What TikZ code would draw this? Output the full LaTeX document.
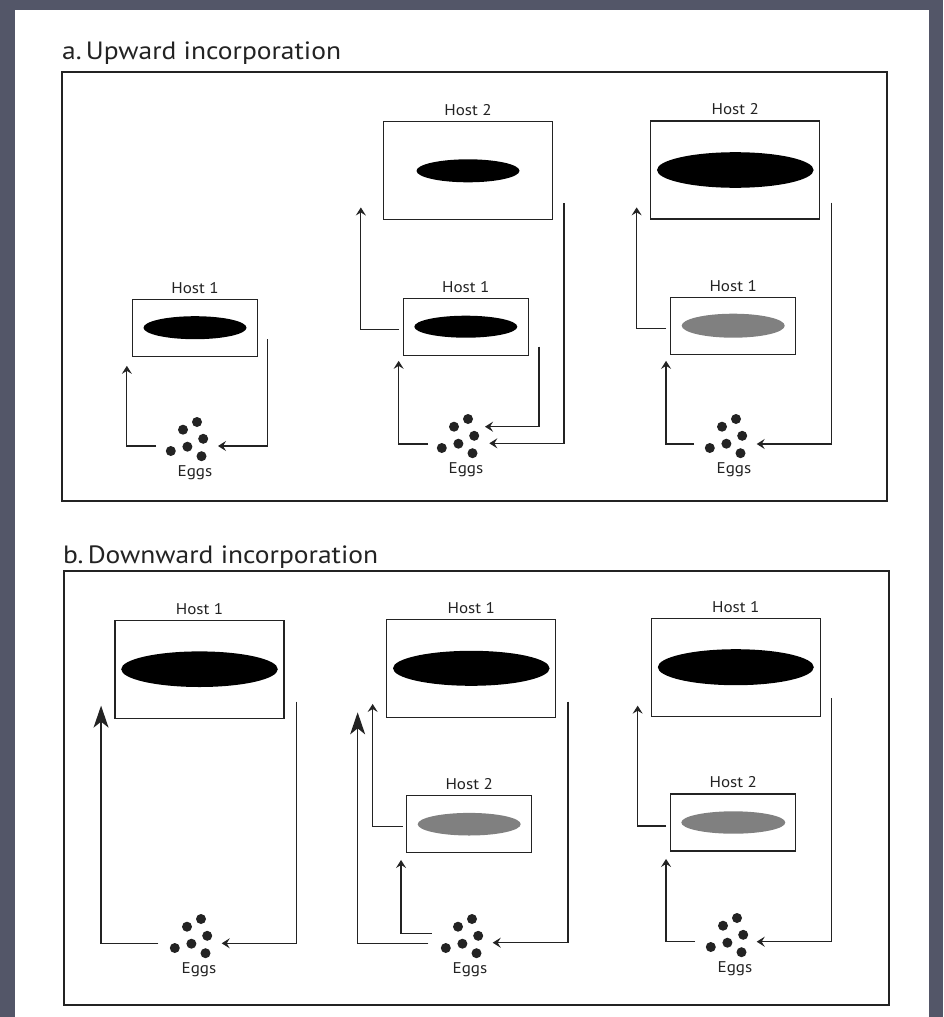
\documentclass[tikz,border=0pt]{standalone}
\usepackage{fontspec}
\setmainfont{PT Sans}
\newfontfamily\widesans{PT Sans}[FakeStretch=1.1]
\usetikzlibrary{arrows.meta,calc}
\definecolor{slate}{RGB}{83,86,104}
\definecolor{ink}{RGB}{35,35,35}
\definecolor{halftone}{RGB}{128,128,128}
\tikzset{
  hostbox/.style={draw=ink, line width=1.3pt, inner sep=0pt},
  bigbox/.style={hostbox, minimum width=169pt, minimum height=98pt},
  smallbox/.style={hostbox, minimum width=125pt, minimum height=57pt},
  hostlabel/.style={font=\widesans\fontsize{15.5}{18}\selectfont, text=ink, anchor=base, inner sep=0pt},
  eggslabel/.style={font=\widesans\fontsize{15.5}{18}\selectfont, text=ink, anchor=base, inner sep=0pt},
  paneltitle/.style={font=\widesans\fontsize{25}{28}\selectfont, text=ink, anchor=base west, inner sep=0pt},
  conn/.style={draw=ink, line width=1.2pt, -{Stealth[length=8pt,width=10pt,inset=3pt]}},
  bigconn/.style={draw=ink, line width=1.2pt, -{Stealth[length=22pt,width=15pt,inset=6pt]}},
  panel/.style={draw=ink, line width=1.3pt},
}
% six egg dots above an "Eggs" label node
\newcommand\eggcluster[1]{%
  \foreach \dx/\dy in {2/-54, -12/-46.3, 8.2/-37.2, -7.6/-29.3, -24.2/-25, 6.5/-19.8}
    \fill[ink] ($(#1.base)+(\dx,\dy)$) circle[radius=5pt];}
% label above a host box
\newcommand\hostname[2]{\node[hostlabel] (#1l) at ($(#1.north)+(0,-5.5)$) {Host #2};}

\begin{document}
\begin{tikzpicture}[x=1pt,y=-1pt]
\useasboundingbox (0,0) rectangle (943,1017);
\fill[slate] (0,0) rectangle (943,1017);
\fill[white] (15,10) rectangle (929,1017);

% ---------- a. Upward incorporation ----------
\node[paneltitle] (ta) at (62,59) {a.\,Upward incorporation};
\draw[panel] (62,72) rectangle (887,501);

% column 1
\node[smallbox] (a1h1) at (195,327.7) {};
\hostname{a1h1}{1}
\fill[black] (a1h1.center) ellipse[x radius=51.5pt, y radius=11.5pt];
\node[eggslabel] (a1e) at (195,476) {Eggs};
\eggcluster{a1e}
\draw[conn] ($(a1h1.east)+(9,11.6)$) |- ($(a1e.base)+(23,-30)$);
\draw[conn] ($(a1e.base)+(-39,-30)$) -| ($(a1h1.south west)+(-5,9)$);

% column 2
\node[bigbox] (a2h2) at (468,170.8) {};
\hostname{a2h2}{2}
\fill[black] (a2h2.center) ellipse[x radius=51.5pt, y radius=11.5pt];
\node[smallbox] (a2h1) at (465.8,326.7) {};
\hostname{a2h1}{1}
\fill[black] (a2h1.center) ellipse[x radius=51.5pt, y radius=11pt];
\node[eggslabel] (a2e) at (466,473) {Eggs};
\eggcluster{a2e}
\draw[conn] ($(a2h1.west)+(-3.5,2.5)$) -| ($(a2h2.south west)+(-22,-13)$);
\draw[conn] ($(a2e.base)+(-38,-29)$) -| ($(a2h1.south west)+(-4,5)$);
\draw[conn] ($(a2h1.east)+(10,20)$) |- ($(a2e.base)+(19,-46.3)$);
\draw[conn] ($(a2h2.east)+(10.8,32.5)$) |- ($(a2e.base)+(23.3,-29.7)$);

% column 3
\node[bigbox] (a3h2) at (735.3,170) {};
\hostname{a3h2}{2}
\fill[black] (a3h2.center) ellipse[x radius=78.3pt, y radius=17.8pt];
\node[smallbox] (a3h1) at (733.2,325.7) {};
\hostname{a3h1}{1}
\fill[halftone] (a3h1.center) ellipse[x radius=51.5pt, y radius=12pt];
\node[eggslabel] (a3e) at (734,473) {Eggs};
\eggcluster{a3e}
\draw[conn] ($(a3h1.west)+(-4,2.6)$) -| ($(a3h2.south west)+(-13.5,-12.3)$);
\draw[conn] ($(a3e.base)+(-40,-29)$) -| ($(a3h1.south west)+(-4,6)$);
\draw[conn] ($(a3h2.east)+(10.9,32.7)$) |- ($(a3e.base)+(22.7,-29)$);

% ---------- b. Downward incorporation ----------
\node[paneltitle] (tb) at (63,563) {b.\,Downward incorporation};
\draw[panel] (64,571) rectangle (889,1005);

% column 1
\node[bigbox] (b1h1) at (199.5,669.2) {};
\hostname{b1h1}{1}
\fill[black] (b1h1.center) ellipse[x radius=78.3pt, y radius=17.8pt];
\node[eggslabel] (b1e) at (199,973) {Eggs};
\eggcluster{b1e}
\draw[conn] ($(b1h1.east)+(12,32.5)$) |- ($(b1e.base)+(22.7,-29.7)$);
\draw[bigconn] ($(b1e.base)+(-40.7,-29.7)$) -| ($(b1h1.south west)+(-13.3,-13.2)$);

% column 2
\node[bigbox] (b2h1) at (471.3,668.3) {};
\hostname{b2h1}{1}
\fill[black] (b2h1.center) ellipse[x radius=78.3pt, y radius=17.5pt];
\node[smallbox] (b2h2) at (469.2,824.2) {};
\hostname{b2h2}{2}
\fill[halftone] (b2h2.center) ellipse[x radius=51.5pt, y radius=11.3pt];
\node[eggslabel] (b2e) at (470,973) {Eggs};
\eggcluster{b2e}
\draw[conn] ($(b2h1.east)+(11.5,33.4)$) |- ($(b2e.base)+(22.7,-30.3)$);
\draw[bigconn] ($(b2e.base)+(-41.7,-29.7)$) -| ($(b2h1.south west)+(-28.5,-5.6)$);
\draw[conn] ($(b2e.base)+(-38.3,-39.7)$) -| ($(b2h2.south west)+(-5,6.6)$);
\draw[conn] ($(b2h2.west)+(-3.4,2.5)$) -| ($(b2h1.south west)+(-13.5,-14)$);

% column 3
\node[bigbox] (b3h1) at (735.8,667.2) {};
\hostname{b3h1}{1}
\fill[black] (b3h1.center) ellipse[x radius=78pt, y radius=18pt];
\node[smallbox] (b3h2) at (733.3,822.5) {};
\hostname{b3h2}{2}
\fill[halftone] (b3h2.center) ellipse[x radius=52pt, y radius=11.2pt];
\node[eggslabel] (b3e) at (735,972) {Eggs};
\eggcluster{b3e}
\draw[conn] ($(b3h1.east)+(10.4,31.1)$) |- ($(b3e.base)+(21.7,-30.3)$);
\draw[conn] ($(b3e.base)+(-40,-30.3)$) -| ($(b3h2.south west)+(-4.1,7.3)$);
\draw[conn] ($(b3h2.west)+(-4.1,3.5)$) -| ($(b3h1.south west)+(-13,-11.2)$);
\end{tikzpicture}
\end{document}
